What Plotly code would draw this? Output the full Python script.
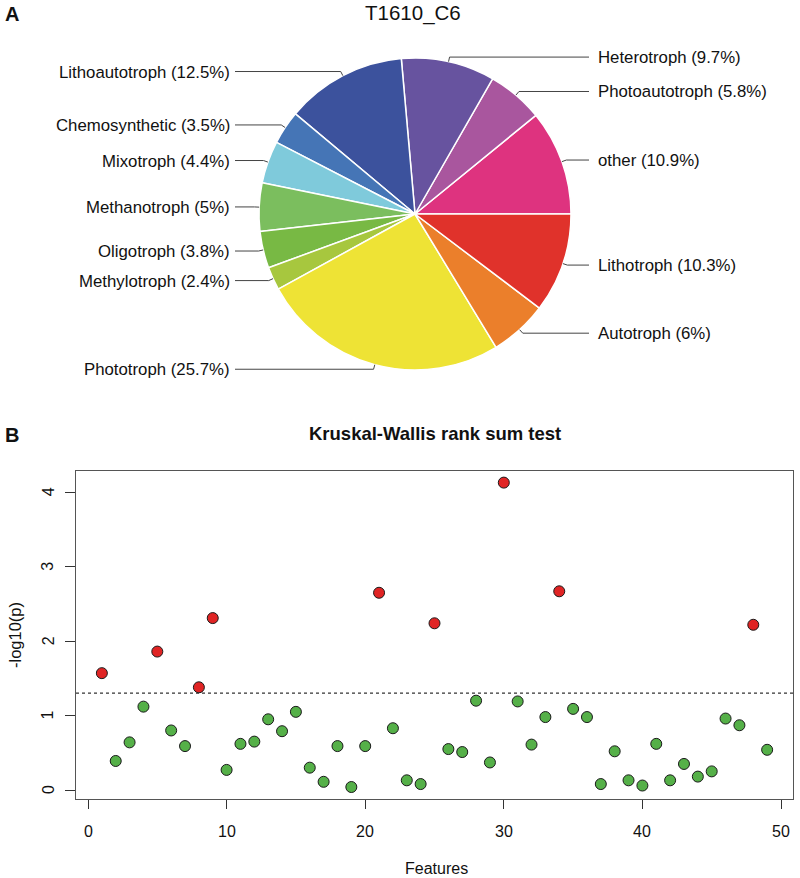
import math
import plotly.graph_objects as go

W, H = 800, 878

# ---------------- data ----------------
pie_labels = ["other", "Photoautotroph", "Heterotroph", "Lithoautotroph", "Chemosynthetic",
              "Mixotroph", "Methanotroph", "Oligotroph", "Methylotroph", "Phototroph",
              "Autotroph", "Lithotroph"]
pie_values = [10.9, 5.8, 9.7, 12.5, 3.5, 4.4, 5.0, 3.8, 2.4, 25.7, 6.0, 10.3]
pie_pct_text = ["10.9%", "5.8%", "9.7%", "12.5%", "3.5%", "4.4%", "5%", "3.8%", "2.4%",
                "25.7%", "6%", "10.3%"]
pie_colors = ["#DE337F", "#A9569E", "#67539F", "#3C529D", "#4575B6", "#7FCADB",
              "#7BBE5E", "#78B944", "#A7C73E", "#EEE335", "#EB7F2B", "#E0322B"]

features = list(range(1, 50))
neglog10p = [1.57, 0.39, 0.64, 1.12, 1.86, 0.80, 0.59, 1.38, 2.31, 0.27,
             0.62, 0.65, 0.95, 0.79, 1.05, 0.30, 0.11, 0.59, 0.04, 0.59,
             2.65, 0.83, 0.13, 0.08, 2.24, 0.55, 0.51, 1.20, 0.37, 4.13,
             1.19, 0.61, 0.98, 2.67, 1.09, 0.98, 0.08, 0.52, 0.13, 0.06,
             0.62, 0.13, 0.35, 0.18, 0.25, 0.96, 0.87, 2.22, 0.54]
threshold = -math.log10(0.05)
x_ticks = [0, 10, 20, 30, 40, 50]
y_ticks = [0, 1, 2, 3, 4]

FONT = "Liberation Sans, Arial, Helvetica, sans-serif"
TXT = "#111111"


def px(x):
    return x / W


def py(y):
    return 1 - y / H


fig = go.Figure()

# ---------------- pie ----------------
cx, cy, R = 415, 214, 156
total = sum(pie_values)
# plotly places the first counterclockwise slice so that it ends at `rotation`;
# shift so that the first slice starts at 3 o'clock (as in R's pie()).
rot = 90 - 360 * pie_values[0] / total
fig.add_trace(go.Pie(
    labels=pie_labels, values=pie_values, sort=False, direction="counterclockwise",
    rotation=rot, textinfo="none", hoverinfo="label+percent",
    marker=dict(colors=pie_colors, line=dict(color="white", width=1.5)),
    domain=dict(x=[px(cx - R), px(cx + R)], y=[py(cy + R), py(cy - R)]),
    showlegend=False,
))

shapes = []
annotations = []
cum = 0.0
for lab, v, pct in zip(pie_labels, pie_values, pie_pct_text):
    mid = (cum + v / 2) / total * 2 * math.pi
    cum += v
    ca, sa = math.cos(mid), math.sin(mid)
    x1, y1 = cx + R * ca, cy - R * sa
    x2, y2 = cx + R * 1.03 * ca, cy - R * 1.03 * sa
    left = ca < 0
    xe = 235 if left else 589
    shapes.append(dict(type="line", xref="paper", yref="paper",
                       x0=px(x1), y0=py(y1), x1=px(x2), y1=py(y2),
                       line=dict(color="#444444", width=1)))
    shapes.append(dict(type="line", xref="paper", yref="paper",
                       x0=px(x2), y0=py(y2), x1=px(xe), y1=py(y2),
                       line=dict(color="#444444", width=1)))
    annotations.append(dict(
        xref="paper", yref="paper", x=px(232 if left else 596), y=py(y2 + 0.5),
        xanchor="right" if left else "left", yanchor="middle",
        text=f"{lab} ({pct})", showarrow=False,
        font=dict(family=FONT, size=16.8, color=TXT)))

annotations.append(dict(xref="paper", yref="paper", x=px(412.5), y=py(13), text="T1610_C6",
                        showarrow=False, xanchor="center", yanchor="middle",
                        font=dict(family=FONT, size=20.5, color=TXT)))
annotations.append(dict(xref="paper", yref="paper", x=px(3), y=py(14), text="<b>A</b>",
                        showarrow=False, xanchor="left", yanchor="middle",
                        font=dict(family=FONT, size=20, color=TXT)))
annotations.append(dict(xref="paper", yref="paper", x=px(3), y=py(435), text="<b>B</b>",
                        showarrow=False, xanchor="left", yanchor="middle",
                        font=dict(family=FONT, size=20, color=TXT)))
annotations.append(dict(xref="paper", yref="paper", x=px(435), y=py(433),
                        text="<b>Kruskal-Wallis rank sum test</b>",
                        showarrow=False, xanchor="center", yanchor="middle",
                        font=dict(family=FONT, size=18.5, color=TXT)))
annotations.append(dict(xref="paper", yref="paper", x=px(436), y=py(868), text="Features",
                        showarrow=False, xanchor="center", yanchor="middle",
                        font=dict(family=FONT, size=16, color=TXT)))
annotations.append(dict(xref="paper", yref="paper", x=px(15), y=py(635), text="-log10(p)",
                        showarrow=False, xanchor="center", yanchor="middle", textangle=-90,
                        font=dict(family=FONT, size=16.5, color=TXT)))

# tick labels (R style: y labels parallel to the axis)
for t in x_ticks:
    annotations.append(dict(xref="x", yref="paper", x=t, y=py(831), text=str(t),
                            showarrow=False, xanchor="center", yanchor="middle",
                            font=dict(family=FONT, size=16, color=TXT)))
for t in y_ticks:
    annotations.append(dict(xref="paper", yref="y", x=px(48), y=t, text=str(t),
                            showarrow=False, xanchor="center", yanchor="middle",
                            textangle=-90,
                            font=dict(family=FONT, size=16, color=TXT)))

# ---------------- scatter ----------------
colors = ["#E02424" if v > threshold else "#55B048" for v in neglog10p]
fig.add_trace(go.Scatter(
    x=features, y=neglog10p, mode="markers", xaxis="x", yaxis="y",
    marker=dict(size=11, color=colors, line=dict(color="#1a1a1a", width=1)),
    showlegend=False, hovertemplate="Feature %{x}<br>-log10(p)=%{y:.2f}<extra></extra>",
))
shapes.append(dict(type="line", xref="x domain", yref="y", x0=0, x1=1,
                   y0=threshold, y1=threshold,
                   line=dict(color="#333333", width=1.3, dash="dot")))

# axis geometry (reference pixels): x=0 at 88, x=50 at 781; y=0 at 790, y=4 at 492.3
box_l, box_r, box_t, box_b = 76, 793, 471, 799
ux = (781 - 88) / 50.0
uy = (790 - 492.3) / 4.0
x_range = [(box_l - 88) / ux, (box_r - 88) / ux]
y_range = [(790 - box_b) / uy, (790 - box_t) / uy]

fig.update_layout(
    width=W, height=H, margin=dict(l=0, r=0, t=0, b=0),
    paper_bgcolor="white", plot_bgcolor="white",
    shapes=shapes, annotations=annotations,
    xaxis=dict(domain=[px(box_l), px(box_r)], anchor="y", range=x_range,
               tickmode="array", tickvals=x_ticks, ticks="outside", ticklen=9,
               tickwidth=1.2, tickcolor="#333333", showgrid=False, zeroline=False,
               showline=True, mirror=True, linecolor="#555555", linewidth=1.3,
               showticklabels=False),
    yaxis=dict(domain=[py(box_b), py(box_t)], anchor="x", range=y_range,
               tickmode="array", tickvals=y_ticks, ticks="outside", ticklen=10,
               tickwidth=1.2, tickcolor="#333333", showgrid=False, zeroline=False,
               showline=True, mirror=True, linecolor="#555555", linewidth=1.3,
               showticklabels=False),
)

# remove the browser's default 8px body margin so the 800x878 figure fills the window
fig.write_html("out.html", config={"displayModeBar": False},
               post_script="document.body.style.margin='0px';document.body.style.overflow='hidden';")
